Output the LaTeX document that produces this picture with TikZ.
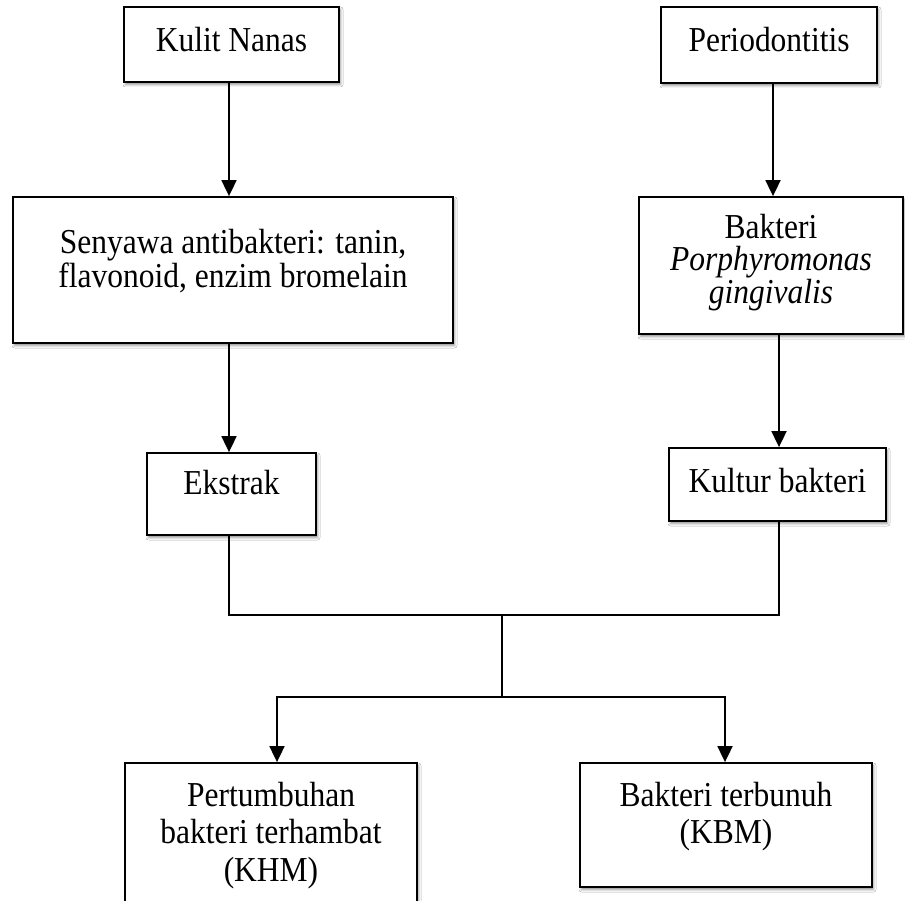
\documentclass[tikz,border=0pt]{standalone}
\usepackage{fontspec}
\setmainfont[FakeStretch=0.9]{Liberation Serif}
\usetikzlibrary{arrows.meta,shadows.blur,calc}
\begin{document}
\begin{tikzpicture}[x=1pt,y=-1pt,
  box/.style={draw, line width=1.8pt, fill=white, inner sep=0pt,
    blur shadow={shadow xshift=1.5pt, shadow yshift=-2.5pt, shadow blur radius=2.5pt, shadow opacity=45}},
  txt/.style={align=center, inner sep=0pt, font=\fontsize{35}{33.3}\selectfont},
  conn/.style={line width=1.8pt},
  arr/.style={line width=1.8pt, -{Triangle[length=16pt,width=15pt]}}]
\clip (0,0) rectangle (905,901);
\fill[white] (0,0) rectangle (905,901);

\node[box, minimum width=215pt, minimum height=75pt,
  label={[txt, name=kulit-t, yshift=5pt]center:{Kulit Nanas}}] (kulit) at (231.5,44.5) {};
\node[box, minimum width=216pt, minimum height=76pt,
  label={[txt, name=perio-t, yshift=5pt]center:{Periodontitis}}] (perio) at (769,45) {};
\node[box, minimum width=440pt, minimum height=146pt,
  label={[txt, name=senyawa-t, yshift=9pt]center:{Senyawa antibakteri: tanin,\\flavonoid, enzim bromelain}}] (senyawa) at (233,270) {};
\node[box, minimum width=264pt, minimum height=137pt,
  label={[txt, name=bakteri-t, yshift=3pt, font=\fontsize{35}{31.5}\selectfont]center:{Bakteri\\\textit{Porphyromonas}\\\textit{gingivalis}}}] (bakteri) at (771,265.5) {};
\node[box, minimum width=169pt, minimum height=82pt,
  label={[txt, name=ekstrak-t, yshift=11pt]center:{Ekstrak}}] (ekstrak) at (231.5,494) {};
\node[box, minimum width=217pt, minimum height=73pt,
  label={[txt, name=kultur-t, yshift=4pt]center:{Kultur bakteri}}] (kultur) at (777.5,484.5) {};
\node[box, minimum width=292pt, minimum height=148pt,
  label={[txt, name=pert-t, yshift=1.5pt, font=\fontsize{35}{37.5}\selectfont]center:{Pertumbuhan\\bakteri terhambat\\(KHM)}}] (pert) at (271,837) {};
\node[box, minimum width=292pt, minimum height=124pt,
  label={[txt, name=kbm-t, yshift=8.5pt, font=\fontsize{35}{37}\selectfont]center:{Bakteri terbunuh\\(KBM)}}] (kbm) at (726,825) {};

\coordinate (join) at (502,615);
\coordinate (split) at (502,697);

\draw[arr] ([xshift=-2.5pt]kulit.south) -- ([xshift=-2.5pt]kulit.south |- senyawa.north);
\draw[arr] ([xshift=-4pt]senyawa.south) -- ([xshift=-4pt]senyawa.south |- ekstrak.north);
\draw[arr] ([xshift=4pt]perio.south) -- ([xshift=4pt]perio.south |- bakteri.north);
\draw[arr] ([xshift=1.5pt]kultur.north |- bakteri.south) -- ([xshift=1.5pt]kultur.north);
\draw[conn] ([xshift=-2.5pt]ekstrak.south) -- ([xshift=-2.5pt]ekstrak.south |- join)
  -- ([xshift=1.5pt]kultur.south |- join) -- ([xshift=1.5pt]kultur.south);
\draw[conn] (join) -- (split);
\draw[arr] (split) -| ([xshift=6pt]pert.north);
\draw[arr] (split) -| ([xshift=-1pt]kbm.north);
\end{tikzpicture}
\end{document}
